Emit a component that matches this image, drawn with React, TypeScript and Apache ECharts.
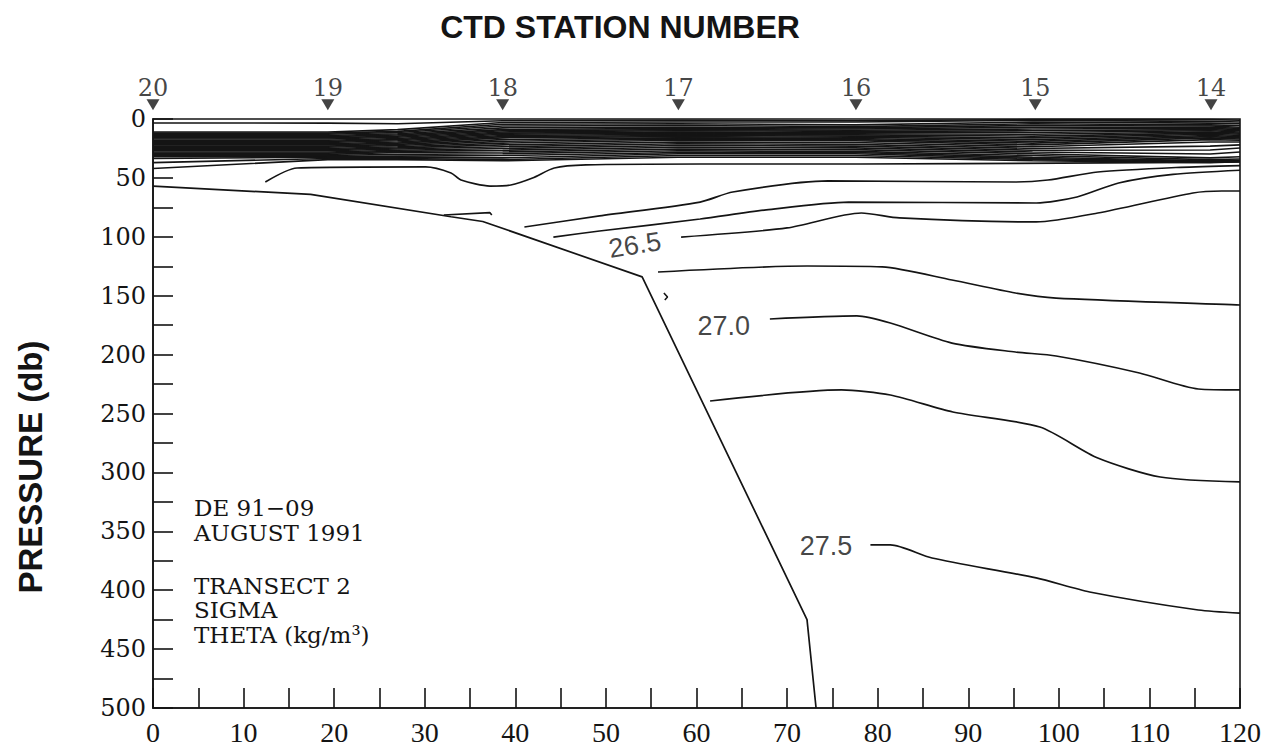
import React, { useEffect, useRef } from "react";
import * as echarts from "echarts";

const INK = "#141414";

// Top axis: CTD stations (number, distance along transect in km)
const stationNumbers = ["20", "19", "18", "17", "16", "15", "14"];
const stationKm = [0, 19.3, 38.6, 58.0, 77.6, 97.4, 116.8];
const stationMarkerP = -12;

// Axes
const distanceMin = 0;
const distanceMax = 120;
const distanceStep = 10;
const pressureMin = 0;
const pressureMax = 500;
const pressureStep = 50;

// Bottom (topography) profile [km, db]
const bottomProfile = [
  [0, 57], [17.4, 64], [32.9, 83], [36.4, 87], [54.0, 134], [72.2, 425], [73.2, 500],
];

// Sub-surface sigma-theta contours [km, db]
const contourA = [
  [12.4, 53.5], [15.9, 41.6], [30.1, 40.7], [32.9, 45.8], [34.0, 51.8], [37.2, 56.9],
  [39.5, 56.0], [41.9, 50.1], [44.3, 41.6], [47.8, 39.0], [60.4, 38.2], [78.1, 38.2],
  [100.1, 37.4], [110.1, 37.0], [120, 36.5],
];
const contourB = [
  [41.0, 91.7], [49.3, 82.3], [60.4, 70.5], [64.0, 62.0], [74.5, 52.6], [95.2, 53.5],
  [98.8, 51.8], [104.3, 45.0], [113.4, 41.0], [120, 39.5],
];
const contourC = [
  [44.2, 100.2], [49.3, 95.1], [60.4, 84.9], [67.7, 77.2], [76.8, 70.5], [97.5, 71.3],
  [102.0, 66.2], [106.6, 54.3], [112.6, 47.0], [120, 43.5],
];
const contour265 = [
  [58.3, 100.2], [70.0, 92.5], [78.2, 79.8], [82.4, 84.0], [97.5, 87.4], [104.3, 79.8],
  [114.8, 62.8], [118.0, 61.1], [120, 61.1],
];
const contourE = [
  [55.75, 129.9], [72.2, 124.8], [80.5, 125.6], [88.2, 136.7], [95.2, 147.7], [99.7, 152.0],
  [120, 157.9],
];
const contour270 = [
  [68.1, 169.8], [77.7, 167.2], [81.4, 173.2], [88.2, 190.2], [95.2, 197.8], [99.7, 201.2],
  [108.9, 215.6], [115.4, 229.2], [120, 230.0],
];
const contourG = [
  [61.5, 239.4], [76.0, 230.0], [81.4, 234.3], [88.3, 248.7], [97.9, 261.5], [104.3, 287.8],
  [111.2, 303.9], [120, 308.1],
];
const contour275 = [
  [79.2, 361.6], [81.4, 361.6], [86.0, 372.7], [97.5, 389.6], [103.4, 401.5], [115.4, 416.8],
  [120, 419.4],
];
const contourShelfBit = [[32.1, 81.5], [37.2, 79.5], [37.4, 81.5]];
const contourSlopeBit = [[56.4, 147.7], [56.8, 151.1], [56.5, 153.6]];

// Dense near-surface band: depth (db) of each contour at these distances
const bandX = [0, 19.3, 27, 38.6, 58, 77.5, 97.1, 116.7, 120];
const bandLines = [
  [3.4, 3.5, 4, 1.5, 1, 1.5, 0.5, 0.5, 1],
  [11, 11, 9, 3, 2.5, 2.5, 1.2, 2, 2.5],
  [12, 12, 10.5, 4.5, 4, 5, 2.5, 3.5, 4],
  [13, 13, 11.5, 6, 5.5, 6.5, 4, 5, 5.5],
  [14, 14, 12.5, 7.5, 7, 7.5, 5.5, 6, 7],
  [15, 15, 13.5, 9, 8, 8.5, 7, 7, 8],
  [16, 16, 14.5, 10, 9, 9.5, 8.5, 8, 9],
  [17, 17, 15.5, 11, 10, 10.5, 10, 9, 10],
  [18, 18, 16.5, 12, 11, 11.5, 11.5, 10, 11],
  [19, 19, 17.5, 13, 12, 12.5, 13, 11, 12],
  [20, 20, 18.5, 14, 13, 13.5, 14.5, 12, 13],
  [21, 21, 19.5, 15, 14, 14.5, 16, 13, 14],
  [22, 22, 20.5, 16, 15, 15.5, 17.5, 14, 15],
  [23, 23, 21.5, 17.5, 16, 16.5, 19, 15, 16],
  [24, 24, 22.5, 19, 17, 17.5, 20.5, 16, 17],
  [25, 25, 23.5, 20.5, 18, 18.5, 22, 17.5, 18],
  [26, 26, 24.5, 22, 19.5, 20, 23.5, 19.5, 19.5],
  [27, 27, 25.5, 23.5, 21, 21.5, 25, 23, 22],
  [28, 28, 26.5, 25, 22.5, 23, 26.5, 26.3, 24.6],
  [29, 29, 27.5, 26.5, 24, 24.5, 28, 29.7, 28],
  [30, 30, 28.5, 28, 25.5, 26, 29.5, 33, 32],
  [31, 31, 30, 29.5, 27, 27.5, 31, 34.5, 34],
  [32, 32, 31.5, 31, 28.5, 28.5, 32.5, 35.5, 35],
  [33.5, 32.5, 32.5, 33, 29.5, 29.5, 33.5, 36, 35.5],
  [37, 33.5, 33.5, 34.5, 31, 31, 34.5, 36.5, 36],
  [42, 34.5, 34.5, 35.5, 32.5, 32.5, 35.5, 37, 36.2],
];

// Contour labels
const contourLabelText = ["26.5", "27.0", "27.5"];
const contourLabelKm = [53.2, 63.0, 74.3];
const contourLabelP = [107, 176, 362.5];
const contourLabelRotate = [9, 0, 0];

// Annotation block
const noteLines = ["DE 91\u221209", "AUGUST 1991", "TRANSECT 2", "SIGMA", "THETA (kg/m\u00B3)"];
const noteLineY = [508, 533, 586, 610, 635];

function lineSeries(data: number[][], width: number, smooth: number | boolean = false) {
  return {
    type: "line",
    data,
    symbol: "none",
    showSymbol: false,
    smooth,
    silent: true,
    lineStyle: { color: INK, width },
    z: 3,
  };
}

export default function App() {
  const ref = useRef<HTMLDivElement>(null);

  useEffect(() => {
    if (!ref.current) return;
    const chart = echarts.init(ref.current, undefined, { renderer: "svg" });

    const series: any[] = [];
    bandLines.forEach((depths) => {
      series.push(lineSeries(bandX.map((x, i) => [x, depths[i]]), 1.6, false));
    });
    [contourA, contourB, contourC, contour265, contourE, contour270, contourG, contour275].forEach((c) =>
      series.push(lineSeries(c, 1.7, 0.25))
    );
    series.push(lineSeries(contourShelfBit, 1.6, false));
    series.push(lineSeries(contourSlopeBit, 1.6, false));
    series.push(lineSeries(bottomProfile, 1.7, false));

    series.push({
      type: "scatter",
      data: stationKm.map((x, i) => [x, stationMarkerP, stationNumbers[i]]),
      symbol: "triangle",
      symbolRotate: 180,
      symbolSize: [13, 11],
      itemStyle: { color: INK },
      clip: false,
      silent: true,
      z: 6,
      label: {
        show: true,
        position: "top",
        distance: -1,
        formatter: (p: any) => p.value[2],
        color: INK,
        fontFamily: "DejaVu Serif",
        fontSize: 24,
      },
    });

    series.push({
      type: "scatter",
      data: contourLabelText.map((t, i) => [contourLabelKm[i], contourLabelP[i], t]),
      symbol: "circle",
      symbolSize: 1,
      itemStyle: { color: "rgba(0,0,0,0)" },
      silent: true,
      z: 6,
      label: {
        show: true,
        position: "inside",
        formatter: (p: any) => p.value[2],
        color: INK,
        fontFamily: "Liberation Sans",
        fontSize: 27,
      },
      labelLayout: (params: any) => ({ rotate: contourLabelRotate[params.dataIndex] }),
    });

    const graphic: any[] = [
      {
        type: "text",
        x: 620,
        y: 27,
        style: {
          text: "CTD STATION NUMBER",
          fontFamily: "Liberation Sans",
          fontWeight: "bold",
          fontSize: 32,
          fill: INK,
          textAlign: "center",
          textVerticalAlign: "middle",
        },
      },
      {
        type: "text",
        x: 30,
        y: 467,
        rotation: Math.PI / 2,
        style: {
          text: "PRESSURE (db)",
          fontFamily: "Liberation Sans",
          fontWeight: "bold",
          fontSize: 33,
          fill: INK,
          textAlign: "center",
          textVerticalAlign: "middle",
        },
      },
    ];
    noteLines.forEach((t, i) => {
      graphic.push({
        type: "text",
        x: 194,
        y: noteLineY[i],
        style: {
          text: t,
          fontFamily: "DejaVu Serif",
          fontSize: 23,
          fill: INK,
          textAlign: "left",
          textVerticalAlign: "middle",
        },
      });
    });

    const tickStyle = { color: INK, width: 1.6 };
    chart.setOption({
      animation: false,
      backgroundColor: "#ffffff",
      grid: {
        left: 153,
        right: 41,
        top: 119,
        bottom: 45,
        show: true,
        borderColor: INK,
        borderWidth: 1.6,
        backgroundColor: "transparent",
      },
      xAxis: {
        type: "value",
        min: distanceMin,
        max: distanceMax,
        interval: distanceStep,
        position: "bottom",
        axisLine: { show: true, onZero: false, lineStyle: tickStyle },
        axisTick: { show: true, inside: true, length: 20, lineStyle: tickStyle },
        minorTick: { show: true, splitNumber: 2, length: 20, lineStyle: tickStyle },
        splitLine: { show: false },
        minorSplitLine: { show: false },
        axisLabel: { color: INK, fontFamily: "Liberation Serif", fontSize: 28, margin: 10 },
      },
      yAxis: {
        type: "value",
        inverse: true,
        min: pressureMin,
        max: pressureMax,
        interval: pressureStep,
        axisLine: { show: true, onZero: false, lineStyle: tickStyle },
        axisTick: { show: true, inside: true, length: 20, lineStyle: tickStyle },
        minorTick: { show: true, splitNumber: 2, length: 20, lineStyle: tickStyle },
        splitLine: { show: false },
        minorSplitLine: { show: false },
        axisLabel: {
          color: INK,
          fontFamily: "DejaVu Serif",
          fontSize: 24,
          margin: 7,
        },
      },
      graphic,
      series,
    });

    return () => chart.dispose();
  }, []);

  return (
    <div
      ref={ref}
      style={{ position: "fixed", left: 0, top: 0, width: 1281, height: 753, background: "#fff" }}
    />
  );
}
